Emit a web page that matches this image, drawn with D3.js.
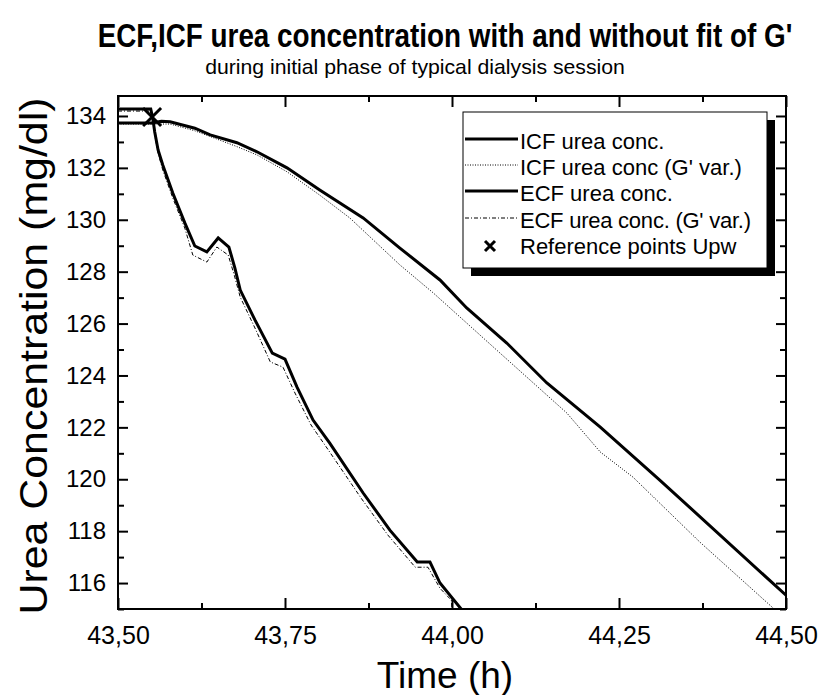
<!DOCTYPE html>
<html>
<head>
<meta charset="utf-8">
<script src="https://cdn.jsdelivr.net/npm/d3@7"></script>
<style>
  body { margin: 0; background: white; }
  text { font-family: "Liberation Sans", Arial, sans-serif; fill: black; }
</style>
</head>
<body>
<div class="content"></div>
<script>
// values
const icfTime = [43.5, 43.551, 43.565, 43.578, 43.615, 43.638, 43.678, 43.708, 43.753, 43.802, 43.867, 43.922, 43.982, 44.022, 44.082, 44.142, 44.222, 44.311, 44.5]
const icfConc = [133.73, 133.73, 133.80, 133.78, 133.53, 133.27, 132.97, 132.62, 132.00, 131.15, 130.07, 128.91, 127.68, 126.60, 125.25, 123.71, 122.01, 119.97, 115.53]

const icfGTime = [43.5, 43.551, 43.578, 43.615, 43.678, 43.708, 43.753, 43.802, 43.847, 43.922, 43.972, 44.072, 44.172, 44.222, 44.271, 44.371, 44.481]
const icfGConc = [133.69, 133.69, 133.69, 133.43, 132.82, 132.50, 131.85, 130.95, 130.07, 128.26, 127.18, 124.86, 122.55, 121.05, 120.08, 117.58, 115.03]

const ecfTime = [43.5, 43.549, 43.552, 43.555, 43.560, 43.567, 43.582, 43.600, 43.615, 43.633, 43.650, 43.666, 43.675, 43.683, 43.705, 43.731, 43.750, 43.768, 43.792, 43.817, 43.867, 43.907, 43.948, 43.967, 43.982, 44.015]
const ecfConc = [134.27, 134.27, 133.92, 133.38, 132.69, 132.11, 131.03, 129.88, 128.99, 128.76, 129.30, 128.95, 128.14, 127.29, 126.14, 124.86, 124.63, 123.55, 122.28, 121.39, 119.47, 118.04, 116.81, 116.81, 116.00, 114.96]

const ecfGTime = [43.5, 43.549, 43.552, 43.555, 43.560, 43.567, 43.582, 43.600, 43.612, 43.633, 43.648, 43.665, 43.674, 43.683, 43.705, 43.728, 43.747, 43.765, 43.789, 43.814, 43.864, 43.904, 43.945, 43.964, 43.982, 43.999, 44.0]
const ecfGConc = [134.19, 134.19, 133.92, 133.27, 132.57, 131.92, 130.84, 129.68, 128.64, 128.37, 128.95, 128.64, 127.87, 127.02, 125.83, 124.52, 124.32, 123.32, 122.09, 121.16, 119.27, 117.85, 116.61, 116.61, 115.80, 115.34, 114.96]

const refTime = [43.551]
const refConc = [133.96]

const xTicks = [43.5, 43.75, 44.0, 44.25, 44.5]
const xMinor = [43.625, 43.875, 44.125, 44.375]
const yTicks = [116, 118, 120, 122, 124, 126, 128, 130, 132, 134]
const yMinor = [115, 117, 119, 121, 123, 125, 127, 129, 131, 133]

const legendLabels = ['ICF urea conc.', "ICF urea conc (G' var.)", 'ECF urea conc.', "ECF urea conc. (G' var.)", 'Reference points Upw']

const width = 822
const height = 695
const plotLeft = 118, plotRight = 786, plotTop = 96, plotBottom = 609

const svg = d3.select('div.content')
    .append('svg')
    .attr('width', width)
    .attr('height', height)

const x = d3.scaleLinear().domain([43.5, 44.5]).range([plotLeft, plotRight])
const y = d3.scaleLinear().domain([115, 134.77]).range([plotBottom, plotTop])

svg.append('clipPath').attr('id', 'plot-clip')
    .append('rect')
    .attr('x', plotLeft).attr('y', plotTop)
    .attr('width', plotRight - plotLeft).attr('height', plotBottom - plotTop)

const fmt = d => d3.format('.2f')(d).replace('.', ',')

// axes, ticks pointing inward
const bottomAxis = svg.append('g').attr('transform', `translate(0,${plotBottom})`)
    .call(d3.axisBottom(x).tickValues(xTicks).tickSizeInner(-11).tickSizeOuter(0).tickPadding(17).tickFormat(fmt))
svg.append('g').attr('transform', `translate(0,${plotBottom})`)
    .call(d3.axisBottom(x).tickValues(xMinor).tickSizeInner(-6).tickSizeOuter(0).tickFormat(''))
svg.append('g').attr('transform', `translate(0,${plotTop})`)
    .call(d3.axisTop(x).tickValues(xTicks).tickSizeInner(-11).tickSizeOuter(0).tickFormat(''))
svg.append('g').attr('transform', `translate(0,${plotTop})`)
    .call(d3.axisTop(x).tickValues(xMinor).tickSizeInner(-6).tickSizeOuter(0).tickFormat(''))
const leftAxis = svg.append('g').attr('transform', `translate(${plotLeft},0)`)
    .call(d3.axisLeft(y).tickValues(yTicks).tickSizeInner(-10).tickSizeOuter(0).tickPadding(12).tickFormat(d3.format('d')))
svg.append('g').attr('transform', `translate(${plotLeft},0)`)
    .call(d3.axisLeft(y).tickValues(yMinor).tickSizeInner(-6).tickSizeOuter(0).tickFormat(''))
svg.append('g').attr('transform', `translate(${plotRight},0)`)
    .call(d3.axisRight(y).tickValues(yTicks).tickSizeInner(-10).tickSizeOuter(0).tickFormat(''))
svg.append('g').attr('transform', `translate(${plotRight},0)`)
    .call(d3.axisRight(y).tickValues(yMinor).tickSizeInner(-6).tickSizeOuter(0).tickFormat(''))

svg.selectAll('.domain').remove()
svg.selectAll('.tick line').attr('stroke', 'black').attr('stroke-width', 2)
bottomAxis.selectAll('text').attr('font-size', 25).attr('font-family', '"Liberation Sans", Arial, sans-serif')
leftAxis.selectAll('text').attr('font-size', 24).attr('font-family', '"Liberation Sans", Arial, sans-serif')

// frame
svg.append('rect')
    .attr('x', plotLeft).attr('y', plotTop)
    .attr('width', plotRight - plotLeft).attr('height', plotBottom - plotTop)
    .attr('fill', 'none').attr('stroke', 'black').attr('stroke-width', 2)

// curves
const series = [
    {t: icfTime, v: icfConc, w: 3, dash: null},
    {t: icfGTime, v: icfGConc, w: 1, dash: '1,1.5'},
    {t: ecfTime, v: ecfConc, w: 3, dash: null},
    {t: ecfGTime, v: ecfGConc, w: 1, dash: '4,2,1,2'}
]
const line = d3.line().x(d => x(d[0])).y(d => y(d[1]))
const plot = svg.append('g').attr('clip-path', 'url(#plot-clip)')
for (let s of series) {
    plot.append('path')
        .attr('d', line(d3.zip(s.t, s.v)))
        .attr('fill', 'none')
        .attr('stroke', 'black')
        .attr('stroke-width', s.w)
        .attr('stroke-linejoin', 'miter')
        .attr('stroke-dasharray', s.dash)
}

function cross(g, cx, cy, size, w) {
    g.append('path')
        .attr('d', `M${cx - size},${cy - size}L${cx + size},${cy + size}M${cx - size},${cy + size}L${cx + size},${cy - size}`)
        .attr('stroke', 'black')
        .attr('stroke-width', w)
        .attr('fill', 'none')
}
refTime.forEach((t, i) => cross(svg, x(t), y(refConc[i]), 9, 3))

// legend with drop shadow
const lx = 463, ly = 112, lw = 304, lh = 156
svg.append('rect').attr('x', lx + 8).attr('y', ly + 8).attr('width', lw).attr('height', lh).attr('fill', 'black')
svg.append('rect').attr('x', lx).attr('y', ly).attr('width', lw).attr('height', lh)
    .attr('fill', 'white').attr('stroke', 'black').attr('stroke-width', 1)
const rows = [141, 167, 193, 220, 246]
legendLabels.forEach((label, i) => {
    if (i < 4) {
        svg.append('line')
            .attr('x1', 465).attr('x2', 518)
            .attr('y1', rows[i] - 2).attr('y2', rows[i] - 2)
            .attr('stroke', 'black')
            .attr('stroke-width', series[i].w)
            .attr('stroke-dasharray', series[i].dash)
    } else {
        cross(svg, 490, rows[i], 5, 3)
    }
    svg.append('text')
        .attr('x', 520).attr('y', rows[i] + 8)
        .attr('font-size', 22)
        .attr('textLength', i == 3 ? 231 : null)
        .text(label)
})

// squeeze a centred text horizontally so it spans the wanted width
function fitText(sel, cx, baseY, wanted) {
    let natural = sel.node().getComputedTextLength()
    let k = wanted / natural
    sel.attr('x', 0).attr('y', 0)
        .attr('transform', `translate(${cx},${baseY}) scale(${k},1)`)
}

// titles
const title = svg.append('text')
    .attr('text-anchor', 'middle')
    .attr('font-family', '"Liberation Sans Narrow", "Liberation Sans", Arial, sans-serif')
    .attr('font-size', 33).attr('font-weight', 'bold')
    .text("ECF,ICF urea concentration with and without fit of G'")
fitText(title, 445, 47, 695)
const subtitle = svg.append('text')
    .attr('text-anchor', 'middle')
    .attr('font-size', 20)
    .text('during initial phase of typical dialysis session')
fitText(subtitle, 415, 74, 420)
svg.append('text')
    .attr('x', 445).attr('y', 688)
    .attr('text-anchor', 'middle')
    .attr('font-size', 37)
    .text('Time (h)')
svg.append('text')
    .attr('transform', 'translate(47,356) rotate(-90)')
    .attr('text-anchor', 'middle')
    .attr('font-size', 38)
    .attr('textLength', 517).attr('lengthAdjust', 'spacingAndGlyphs')
    .text('Urea Concentration (mg/dl)')
</script>
</body>
</html>
